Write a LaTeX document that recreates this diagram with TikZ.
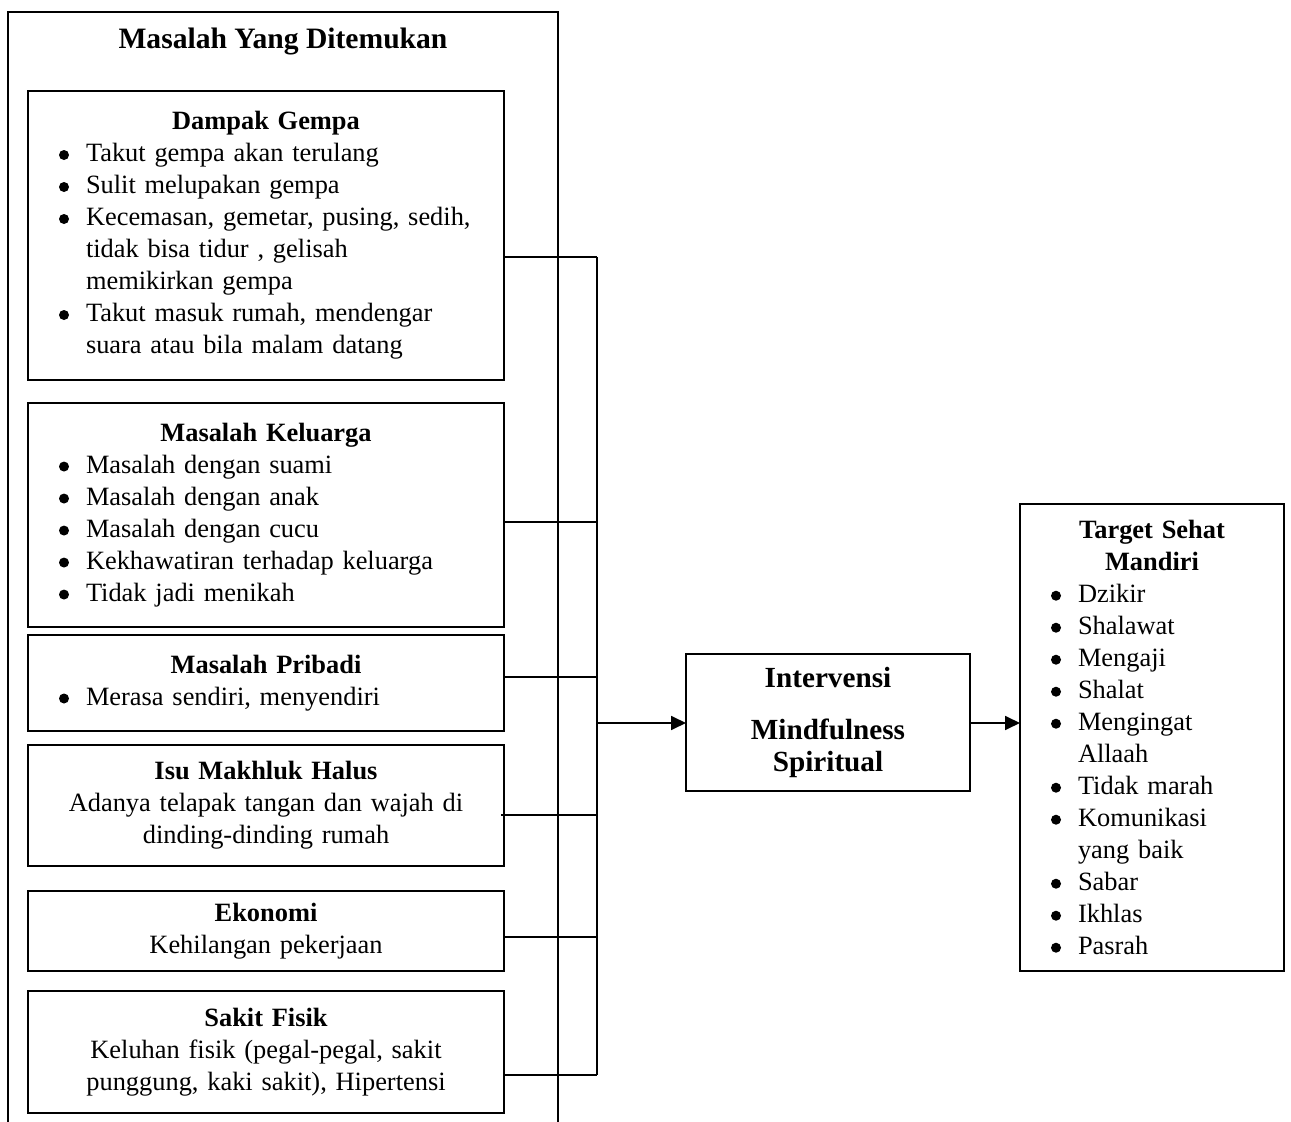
\documentclass[tikz,border=0pt]{standalone}
\usepackage{fontspec}
\setmainfont{Liberation Serif}
\usetikzlibrary{positioning, arrows.meta}

% bullet item with hanging indent
\newcommand{\butir}[1]{\par\hangindent=25pt\hangafter=0\noindent\llap{\tikz[x=1pt, y=1pt, baseline=-3.4pt]\fill (0,0) circle[radius=2.5];\hspace{8.5pt}}#1\par}

\begin{document}
\begin{tikzpicture}[
x=0.5pt, y=-0.5pt,
garis/.style={draw=black, line width=0.9pt},
arr/.style={garis, -{Triangle[length=7.5pt, width=7pt]}},
kotak/.style={rectangle, garis, outer sep=0pt, inner xsep=4pt, inner ysep=2pt,
  text width=230pt, minimum width=238pt, align=left,
  font=\fontsize{13.2}{16}\selectfont},
tengah/.style={kotak, align=center},
]
\useasboundingbox (0,0) rectangle (1291,1122);

% kerangka masalah
\draw[garis] (8,1122) -- (8,12) -- (558,12) -- (558,1122);
\node[font=\fontsize{14.8}{17}\selectfont\bfseries] (judul) at (283,42) {Masalah Yang Ditemukan};

\node[kotak, minimum height=144.5pt] (gempa) at (266,235.5) {%
{\centering\bfseries Dampak Gempa\par}
\butir{Takut gempa akan terulang}
\butir{Sulit melupakan gempa}
\butir{Kecemasan, gemetar, pusing, sedih,\newline tidak bisa tidur , gelisah\newline memikirkan gempa}
\butir{Takut masuk rumah, mendengar\newline suara atau bila malam datang}};

\node[kotak, minimum height=112pt] (keluarga) [below=11.5pt of gempa] {%
{\centering\bfseries Masalah Keluarga\par}
\butir{Masalah dengan suami}
\butir{Masalah dengan anak}
\butir{Masalah dengan cucu}
\butir{Kekhawatiran terhadap keluarga}
\butir{Tidak jadi menikah}};

\node[kotak, minimum height=48pt] (pribadi) [below=4pt of keluarga] {%
{\centering\bfseries Masalah Pribadi\par}
\butir{Merasa sendiri, menyendiri}};

\node[tengah, minimum height=60.5pt] (isu) [below=7pt of pribadi]
  {\textbf{Isu Makhluk Halus}\\Adanya telapak tangan dan wajah di\\dinding-dinding rumah};

\node[tengah, minimum height=40pt] (ekonomi) [below=12.5pt of isu]
  {\textbf{Ekonomi}\\Kehilangan pekerjaan};

\node[tengah, minimum height=61pt] (sakit) [below=10pt of ekonomi]
  {\textbf{Sakit Fisik}\\Keluhan fisik (pegal-pegal, sakit\\punggung, kaki sakit), Hipertensi};

\node[tengah, text width=134pt, minimum width=142pt, minimum height=68.5pt,
  font=\fontsize{14.6}{16}\selectfont\bfseries] (interv) at (828,722.5)
  {Intervensi\\[10pt]Mindfulness\\Spiritual};

\node[kotak, text width=124pt, minimum width=132pt, minimum height=233.5pt] (target) at (1152,737.5) {%
{\centering\bfseries Target Sehat\\Mandiri\par}
\butir{Dzikir}
\butir{Shalawat}
\butir{Mengaji}
\butir{Shalat}
\butir{Mengingat\newline Allaah}
\butir{Tidak marah}
\butir{Komunikasi\newline yang baik}
\butir{Sabar}
\butir{Ikhlas}
\butir{Pasrah}};

% jalur penghubung
\coordinate (bus1) at (597,257);
\coordinate (bus2) at (597,522);
\coordinate (bus3) at (597,677);
\coordinate (bus4) at (597,815);
\coordinate (bus5) at (597,937);
\coordinate (bus6) at (597,1075);
\coordinate (bus0) at (597,723);

\draw[garis] (bus1) -- (bus6);
\draw[garis] (gempa.east |- bus1) -- (bus1);
\draw[garis] (keluarga.east |- bus2) -- (bus2);
\draw[garis] (pribadi.east |- bus3) -- (bus3);
\draw[garis] ([xshift=-1.5pt]isu.east |- bus4) -- (bus4);
\draw[garis] (ekonomi.east |- bus5) -- (bus5);
\draw[garis] (sakit.east |- bus6) -- (bus6);

\draw[arr] (bus0) -- (interv.west |- bus0);
\draw[arr] (interv.east |- bus0) -- (target.west |- bus0);

\end{tikzpicture}
\end{document}
